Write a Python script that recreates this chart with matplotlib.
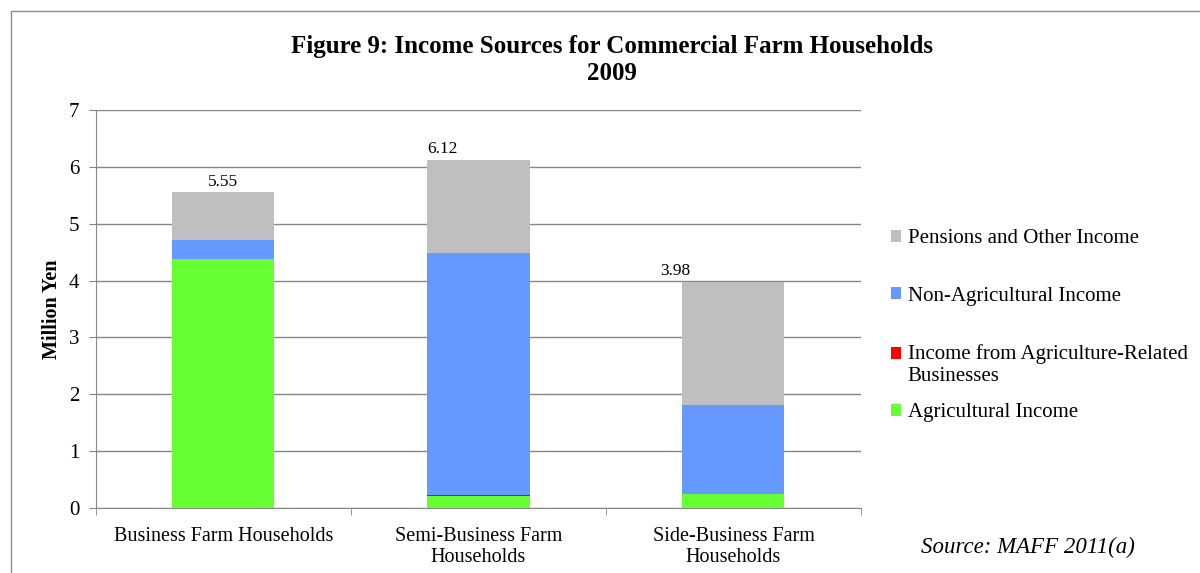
import numpy as np
import matplotlib.pyplot as plt
from matplotlib.patches import Rectangle
from matplotlib.legend_handler import HandlerPatch

plt.rcParams['font.family'] = ['Liberation Serif', 'DejaVu Serif']

categories = ['Business Farm Households', 'Semi-Business Farm\nHouseholds', 'Side-Business Farm\nHouseholds']
agricultural = [4.38, 0.21, 0.25]
agri_related = [0.0, 0.01, 0.0]
non_agricultural = [0.34, 4.27, 1.56]
pensions_other = [0.83, 1.63, 2.17]
totals = [5.55, 6.12, 3.98]

series = [
    ('Agricultural Income', agricultural, '#66FF33'),
    ('Income from Agriculture-Related\nBusinesses', agri_related, '#FF0000'),
    ('Non-Agricultural Income', non_agricultural, '#6699FF'),
    ('Pensions and Other Income', pensions_other, '#BFBFBF'),
]

fig = plt.figure(figsize=(12, 5.73), dpi=100)
W, H = 1200, 573
ax = fig.add_axes([96 / W, 1 - 508 / H, (861 - 96) / W, (508 - 110) / H])

x = np.arange(len(categories))
bottom = np.zeros(len(categories))
handles = []
for name, vals, col in series:
    b = ax.bar(x, vals, 0.4, bottom=bottom, color=col, label=name, zorder=3)
    handles.append(b.patches[0])
    bottom += np.array(vals)

# total labels (Excel put them a bit off-centre)
label_dx = [0.0, -0.14, -0.23]
for i, t in enumerate(totals):
    ax.text(x[i] + label_dx[i], t + 0.05, '%.2f' % t, ha='center', va='bottom', fontsize=12.5)

ax.set_xlim(-0.5, 2.5)
ax.set_ylim(0, 7)
ax.set_yticks(range(8))
ax.set_xticks(x)
ax.set_xticklabels(categories, fontsize=14.5, linespacing=1.1)
ax.set_xticks(np.arange(-0.5, 3, 1), minor=True)
ax.tick_params(axis='x', which='major', length=0, pad=14)
ax.tick_params(axis='x', which='minor', length=5, color='#868686')
ax.tick_params(axis='y', length=5, color='#868686', labelsize=15, pad=7)
ax.grid(axis='y', color='#868686', linewidth=1, zorder=0)
for s in ['top', 'right']:
    ax.spines[s].set_visible(False)
for s in ['left', 'bottom']:
    ax.spines[s].set_color('#868686')
ax.set_ylabel('Million Yen', fontsize=14.5, fontweight='bold', labelpad=5)

fig.text(612 / W, 1 - 46 / H, 'Figure 9: Income Sources for Commercial Farm Households',
         ha='center', va='center', fontsize=18, fontweight='bold')
fig.text(612 / W, 1 - 73 / H, '2009', ha='center', va='center', fontsize=18, fontweight='bold')


# marker of the two-line entry sits on the first line, like Excel does
def top_line_patch(legend, orig_handle, xdescent, ydescent, width, height, fontsize):
    return Rectangle((-xdescent, -ydescent + 8.5), width, height)


leg_opts = dict(loc='upper left', frameon=False, fontsize=15, handlelength=0.5, handleheight=0.5,
                handletextpad=0.3, borderaxespad=0, borderpad=0)
labels = [s[0] for s in series]
fig.legend(handles[:0:-1], labels[:0:-1], bbox_to_anchor=(891 / W, 1 - 229 / H),
           labelspacing=1.85, handler_map={handles[1]: HandlerPatch(patch_func=top_line_patch)},
           **leg_opts)
fig.legend(handles[:1], labels[:1], bbox_to_anchor=(891 / W, 1 - 403 / H), **leg_opts)

fig.text(1028 / W, 1 - 547 / H, 'Source: MAFF 2011(a)', ha='center', va='center',
         fontsize=16.5, style='italic')

fig.patches.append(Rectangle((11 / W, -0.1), 1.2, 1 - 11 / H + 0.1, transform=fig.transFigure,
                             fill=False, edgecolor='#8c8c8c', linewidth=1))

fig.savefig('out.png', dpi=100)
